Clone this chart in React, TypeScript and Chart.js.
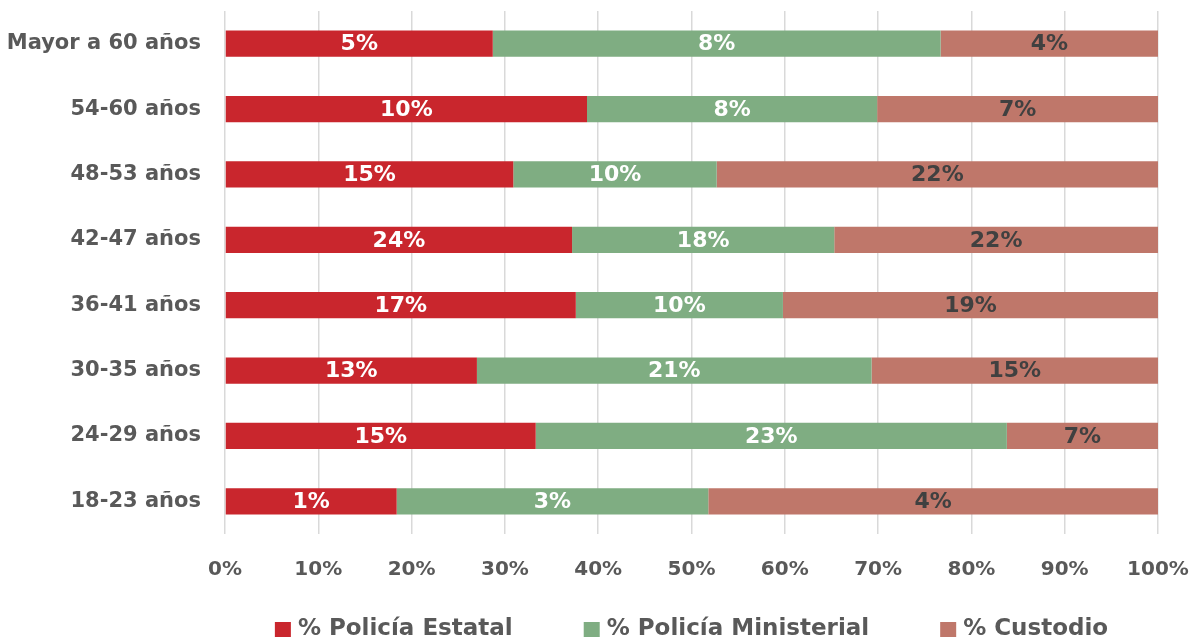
import React, { useEffect, useRef } from "react";
import { Chart, registerables } from "chart.js";

Chart.register(...registerables);

const categories = [
  "Mayor a 60 años",
  "54-60 años",
  "48-53 años",
  "42-47 años",
  "36-41 años",
  "30-35 años",
  "24-29 años",
  "18-23 años",
];

const seriesNames = ["% Policía Estatal", "% Policía Ministerial", "% Custodio"];

// bar widths (share of the 100% bar)
const estatalShare = [28.7, 38.8, 30.9, 37.2, 37.6, 27.0, 33.3, 18.4];
const ministerialShare = [48.0, 31.1, 21.8, 28.1, 22.2, 42.3, 50.5, 33.4];
const custodioShare = [23.3, 30.1, 47.3, 34.7, 40.2, 30.7, 16.2, 48.2];

// printed labels
const estatalLabels = [5, 10, 15, 24, 17, 13, 15, 1];
const ministerialLabels = [8, 8, 10, 18, 10, 21, 23, 3];
const custodioLabels = [4, 7, 22, 22, 19, 15, 7, 4];

const xTicks = [0, 10, 20, 30, 40, 50, 60, 70, 80, 90, 100];

const colors = ["#C9262D", "#7FAD82", "#BF776A"];
const labelColors = ["#FFFFFF", "#FFFFFF", "#404040"];
const FONT = "'DejaVu Sans', sans-serif";

function zeroPadding(scale: any) {
  scale.paddingTop = 0;
  scale.paddingBottom = 0;
  scale.paddingLeft = 0;
  scale.paddingRight = 0;
}

export default function App() {
  const ref = useRef<HTMLCanvasElement | null>(null);

  useEffect(() => {
    if (!ref.current) return;
    const shares = [estatalShare, ministerialShare, custodioShare];
    const printed = [estatalLabels, ministerialLabels, custodioLabels];

    const dataLabelPlugin = {
      id: "dataLabels",
      afterDatasetsDraw(chart: any) {
        const ctx = chart.ctx;
        ctx.save();
        ctx.font = `bold 22px ${FONT}`;
        ctx.textAlign = "center";
        ctx.textBaseline = "middle";
        chart.data.datasets.forEach((ds: any, di: number) => {
          const meta = chart.getDatasetMeta(di);
          meta.data.forEach((bar: any, i: number) => {
            const left = Math.min(bar.x, bar.base);
            const right = Math.max(bar.x, bar.base);
            ctx.fillStyle = labelColors[di];
            ctx.fillText(printed[di][i] + "%", (left + right) / 2, bar.y + 1);
          });
        });
        ctx.restore();
      },
    };

    const legendPlugin = {
      id: "customLegend",
      afterDraw(chart: any) {
        const ctx = chart.ctx;
        const area = chart.chartArea;
        ctx.save();
        ctx.font = `bold 23px ${FONT}`;
        const box = 16;
        const boxGap = 7;
        const itemGap = 71;
        const widths = seriesNames.map((n) => ctx.measureText(n).width);
        const total =
          widths.reduce((a, b) => a + b, 0) + seriesNames.length * (box + boxGap) + itemGap * (seriesNames.length - 1);
        let x = (area.left + area.right) / 2 - total / 2;
        const y = chart.height - 13;
        seriesNames.forEach((n, i) => {
          ctx.fillStyle = colors[i];
          ctx.fillRect(x, y - box / 2 + 1, box, box - 1);
          x += box + boxGap;
          ctx.fillStyle = "#595959";
          ctx.textAlign = "left";
          ctx.textBaseline = "middle";
          ctx.fillText(n, x, y);
          x += widths[i] + itemGap;
        });
        ctx.restore();
      },
    };

    const chart = new Chart(ref.current, {
      type: "bar",
      data: {
        labels: categories,
        datasets: seriesNames.map((name, i) => ({
          label: name,
          data: shares[i],
          backgroundColor: colors[i],
          borderWidth: 0,
          barPercentage: 0.4,
          categoryPercentage: 1,
        })),
      },
      options: {
        indexAxis: "y",
        responsive: false,
        animation: false,
        layout: { padding: { top: 11, right: 35, bottom: 48, left: 0 } },
        plugins: {
          legend: { display: false },
          tooltip: { enabled: false },
        },
        scales: {
          x: {
            stacked: true,
            min: 0,
            max: 100,
            afterBuildTicks(scale: any) {
              scale.ticks = xTicks.map((v) => ({ value: v }));
            },
            afterFit(scale: any) {
              scale.height = 60;
              zeroPadding(scale);
            },
            border: { display: false },
            grid: { color: "#D9D9D9", lineWidth: 1.5, drawTicks: false },
            ticks: {
              padding: 24,
              color: "#595959",
              font: { family: FONT, size: 20, weight: "bold" },
              callback: (v: any) => v + "%",
            },
          },
          y: {
            stacked: true,
            afterFit(scale: any) {
              scale.width = 225;
              zeroPadding(scale);
            },
            border: { display: false },
            grid: { display: false, drawTicks: false },
            ticks: {
              padding: 24,
              color: "#595959",
              font: { family: FONT, size: 21, weight: "bold" },
            },
          },
        },
      },
      plugins: [dataLabelPlugin, legendPlugin],
    } as any);
    return () => chart.destroy();
  }, []);

  return (
    <div style={{ position: "absolute", left: 0, top: 0, width: 1193, height: 642, background: "#fff" }}>
      <canvas ref={ref} width={1193} height={642} />
    </div>
  );
}
